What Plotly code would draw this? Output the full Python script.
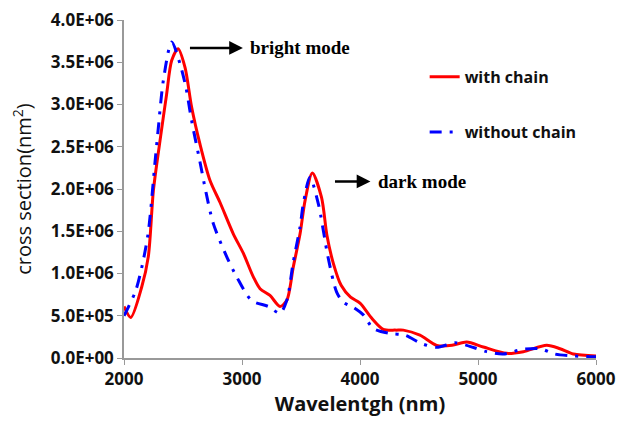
import plotly.graph_objects as go

# with chain (red)
x_with = [2000, 2057, 2150, 2206, 2249, 2305, 2361, 2404, 2458, 2517, 2573, 2644, 2729, 2814,
          2926, 3011, 3096, 3153, 3237, 3322, 3379, 3435, 3492, 3534, 3596, 3674, 3720, 3774,
          3840, 3920, 4000, 4100, 4197, 4300, 4367, 4508, 4650, 4780, 4904, 5045, 5243, 5384,
          5582, 5695, 5808, 6000]
y_with = [0.61e6, 0.48e6, 0.84e6, 1.2e6, 1.98e6, 2.57e6, 3.12e6, 3.52e6, 3.66e6, 3.44e6, 2.97e6,
          2.53e6, 2.1e6, 1.84e6, 1.47e6, 1.24e6, 0.96e6, 0.82e6, 0.74e6, 0.61e6, 0.68e6, 1.08e6,
          1.47e6, 1.86e6, 2.19e6, 1.9e6, 1.45e6, 1.12e6, 0.86e6, 0.72e6, 0.65e6, 0.47e6, 0.34e6,
          0.33e6, 0.33e6, 0.27e6, 0.15e6, 0.15e6, 0.19e6, 0.13e6, 0.055e6, 0.075e6, 0.15e6,
          0.11e6, 0.047e6, 0.024e6]

# without chain (blue)
x_without = [2000, 2036, 2100, 2155, 2206, 2263, 2290, 2333, 2404, 2475, 2525, 2573, 2644,
             2695, 2757, 2870, 2955, 3082, 3223, 3322, 3379, 3435, 3492, 3520, 3576, 3646,
             3731, 3802, 3859, 3943, 4028, 4113, 4254, 4381, 4523, 4650, 4805, 4904, 5073,
             5214, 5370, 5525, 5652, 5808, 5949, 6000]
y_without = [0.5e6, 0.6e6, 0.8e6, 1.1e6, 1.49e6, 2.32e6, 2.71e6, 3.28e6, 3.74e6, 3.48e6, 3.2e6,
             2.81e6, 2.32e6, 1.96e6, 1.59e6, 1.2e6, 0.96e6, 0.68e6, 0.61e6, 0.53e6, 0.68e6,
             1.14e6, 1.55e6, 1.83e6, 2.14e6, 1.83e6, 1.18e6, 0.78e6, 0.66e6, 0.6e6, 0.51e6,
             0.35e6, 0.29e6, 0.27e6, 0.17e6, 0.126e6, 0.18e6, 0.15e6, 0.075e6, 0.047e6, 0.1e6,
             0.11e6, 0.047e6, 0.024e6, 0.016e6, 0.015e6]

x_ticks = [2000, 3000, 4000, 5000, 6000]
y_ticks = [0, 0.5e6, 1.0e6, 1.5e6, 2.0e6, 2.5e6, 3.0e6, 3.5e6, 4.0e6]
y_tick_labels = ["0.0E+00", "5.0E+05", "1.0E+06", "1.5E+06", "2.0E+06",
                 "2.5E+06", "3.0E+06", "3.5E+06", "4.0E+06"]

SANS = "Open Sans, DejaVu Sans, sans-serif"
fig = go.Figure()
fig.add_trace(go.Scatter(x=x_with, y=y_with, mode="lines", name="<b>with chain</b>",
                         legend="legend",
                         line=dict(color="#ff0000", width=3, shape="spline", smoothing=0.8)))
fig.add_trace(go.Scatter(x=x_without, y=y_without, mode="lines", name="<b>without chain</b>",
                         legend="legend2",
                         line=dict(color="#0000ff", width=3, shape="spline", smoothing=0.8,
                                   dash="12px,8px,3px,8px")))

tickfont = dict(family=SANS, size=17, color="#111")
fig.update_xaxes(range=[2000, 6000], tickvals=x_ticks, ticktext=[f"<b>{v}</b>" for v in x_ticks],
                 showgrid=False, zeroline=False, showline=True, linecolor="#999", linewidth=1.5,
                 ticks="outside", ticklen=5, tickcolor="#999", tickfont=tickfont, automargin=False,
                 ticklabeloverflow="allow",
                 title=dict(text="<b>Wavelentgh (nm)</b>", standoff=4,
                            font=dict(family=SANS, size=20, color="#111")))
fig.update_yaxes(range=[0, 4.0e6], tickvals=y_ticks, ticktext=[f"<b>{t}</b>" for t in y_tick_labels],
                 showgrid=False, zeroline=False, showline=True, linecolor="#999", linewidth=1.5,
                 ticks="outside", ticklen=5, tickcolor="#999", tickfont=tickfont, automargin=False,
                 ticklabeloverflow="allow",
                 title=dict(text="cross section(nm<sup>2</sup>)", standoff=14,
                            font=dict(family=SANS, size=20, color="#111")))

serif = dict(family="Liberation Serif, Times New Roman, serif", size=19, color="#000")
fig.add_annotation(x=2559, y=3.67e6, ax=3495, ay=3.67e6, xref="x", yref="y", axref="x", ayref="y",
                   text="<b>bright mode</b>", font=serif, showarrow=True,
                   arrowside="start", startarrowhead=2, startarrowsize=1.1, arrowwidth=2.5,
                   arrowcolor="#000", startstandoff=6, standoff=0)
fig.add_annotation(x=3788, y=2.09e6, ax=4525, ay=2.09e6, xref="x", yref="y", axref="x", ayref="y",
                   text="<b>dark mode</b>", font=serif, showarrow=True,
                   arrowside="start", startarrowhead=2, startarrowsize=1.1, arrowwidth=2.5,
                   arrowcolor="#000", startstandoff=6, standoff=0)

legfont = dict(family=SANS, size=16, color="#111")
fig.update_layout(width=616, height=414, margin=dict(l=116, r=28, t=12, b=64),
                  paper_bgcolor="white", plot_bgcolor="white",
                  showlegend=True,
                  legend=dict(x=0.637, y=0.832, xanchor="left", yanchor="middle", font=legfont,
                              bgcolor="rgba(0,0,0,0)"),
                  legend2=dict(x=0.637, y=0.668, xanchor="left", yanchor="middle", font=legfont,
                               bgcolor="rgba(0,0,0,0)"))
fig.write_html("out.html")
